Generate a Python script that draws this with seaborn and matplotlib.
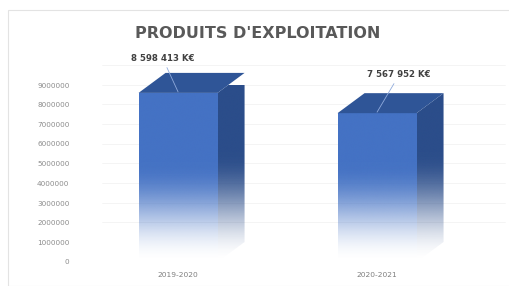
"""
Produits d'exploitation: 3D-style column chart with gradient fill.
"""

import numpy as np
import pandas as pd
import matplotlib
matplotlib.use("Agg")
import matplotlib.pyplot as plt
from matplotlib.patches import Polygon, Rectangle
from matplotlib.colors import to_rgb
import seaborn as sns

periods = ["2019-2020", "2020-2021"]
produits = [8598413, 7567952]
y_ticks = [0, 1000000, 2000000, 3000000, 4000000, 5000000, 6000000, 7000000, 8000000, 9000000]

FRONT = "#4472C4"
TOP = "#2F5597"
SIDE = "#2B4D8A"
TEXT = "#595959"

sns.set_theme(style="white")
plt.rcParams["font.family"] = ["DejaVu Sans"]

W, H = 510, 286
fig = plt.figure(figsize=(W / 100, H / 100), dpi=100)
fig.patch.set_facecolor("white")
# axes placed in pixel terms
left, right, bottom, top = 75, 505, H - 262, H - 85
ax = fig.add_axes([left / W, bottom / H, (right - left) / W, (top - bottom) / H])

df = pd.DataFrame({"periode": periods, "valeur": produits})
sns.barplot(data=df, x="periode", y="valeur", ax=ax, width=0.397,
            color=FRONT, saturation=1, zorder=3)

ax.set_xlim(-0.518, 1.643)
ax.set_ylim(0, 9000000)
ax.set_yticks(y_ticks)
ax.set_yticklabels([str(t) for t in y_ticks])
ax.tick_params(axis="y", labelsize=5.2, colors="#8C8C8C", pad=4, length=0)
ax.tick_params(axis="x", labelsize=5.4, colors="#7F7F7F", pad=7, length=0)
ax.set_xlabel("")
ax.set_ylabel("")
for s in ax.spines.values():
    s.set_visible(False)

# depth offsets (pixels -> data units)
px_x = (right - left) / (ax.get_xlim()[1] - ax.get_xlim()[0])
px_y = (top - bottom) / 9000000
dx, dy = 27 / px_x, 20 / px_y

# faint back-wall grid lines
for t in y_ticks[1:]:
    ax.plot([ax.get_xlim()[0] + dx, ax.get_xlim()[1]], [t + dy, t + dy],
            color="#F3F3F3", lw=0.6, zorder=1, clip_on=False)


def gradient_img(color, fade_top, clip, extent):
    rgb = np.array(to_rgb(color))
    ys = np.linspace(extent[3], extent[2], 300)
    t = np.clip(ys / fade_top, 0, 1)
    alpha = t * t * (3 - 2 * t)
    img = np.ones((300, 2, 4))
    img[..., :3] = rgb
    img[..., 3] = alpha[:, None]
    im = ax.imshow(img, extent=extent, aspect="auto", zorder=4,
                   interpolation="bicubic")
    im.set_clip_path(clip)
    im.set_clip_on(True)


label_offsets = [(-11, 24), (16, 27)]

for bar, v, off in zip(ax.patches, produits, label_offsets):
    x0, w, h = bar.get_x(), bar.get_width(), bar.get_height()
    x1 = x0 + w
    bar.set_facecolor("none")
    bar.set_edgecolor("none")
    front = Rectangle((x0, 0), w, h, transform=ax.transData)
    gradient_img(FRONT, 5000000, front, (x0, x1, 0, h))
    side = Polygon([(x1, 0), (x1, h), (x1 + dx, h + dy), (x1 + dx, dy)],
                   closed=True, transform=ax.transData)
    gradient_img(SIDE, 4500000 + dy, side, (x1, x1 + dx, 0, h + dy))
    top_face = Polygon([(x0, h), (x0 + dx, h + dy), (x1 + dx, h + dy), (x1, h)],
                       closed=True, facecolor=TOP, edgecolor="none",
                       zorder=5, clip_on=False)
    ax.add_patch(top_face)

    label = f"{v:,.0f}".replace(",", " ") + " K€"
    ax.annotate(label, xy=(x0 + w * 0.5, h + dy * 0.05),
                xytext=off, textcoords="offset points",
                ha="center", va="center", fontsize=6.2, fontweight="bold",
                color="#404040", annotation_clip=False, zorder=6,
                arrowprops=dict(arrowstyle="-", color="#8FAADC", lw=0.6,
                                shrinkA=1, shrinkB=0))

fig.text(0.505, (H - 33) / H, "PRODUITS D'EXPLOITATION", ha="center",
         va="center", fontsize=11.5, fontweight="bold", color=TEXT)

# chart frame
fig.patches.append(Rectangle((8 / W, 0), 1, (H - 10) / H, transform=fig.transFigure,
                             fill=False, edgecolor="#E3E3E3", lw=0.8))

plt.savefig("out.png", dpi=100, facecolor="white")
plt.close()
